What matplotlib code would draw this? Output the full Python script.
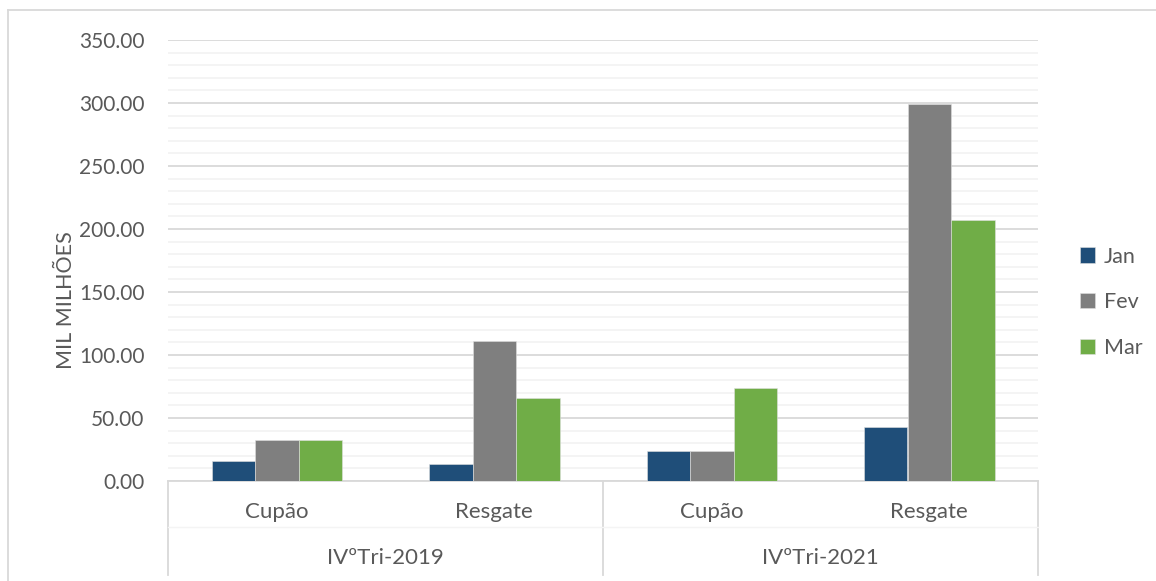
import numpy as np
import matplotlib.pyplot as plt
from matplotlib.lines import Line2D

plt.rcParams['font.family'] = ['Lato', 'DejaVu Sans']

groups = ['IVºTri-2019', 'IVºTri-2021']
categories = ['Cupão', 'Resgate', 'Cupão', 'Resgate']
months = ['Jan', 'Fev', 'Mar']
jan = [16.0, 13.5, 23.8, 43.0]
fev = [32.5, 111.0, 23.8, 299.0]
mar = [32.5, 66.0, 73.8, 207.0]
colors = ['#1F4E79', '#7F7F7F', '#70AD47']

txt = '#595959'
grid_major = '#D9D9D9'
grid_minor = '#F2F2F2'

fig = plt.figure(figsize=(11.56, 5.81), dpi=100)
ax = fig.add_axes([168 / 1156, 1 - 481 / 581, (1038 - 168) / 1156, 441 / 581])

x = np.arange(len(categories))
w = 0.2
for i, (vals, c) in enumerate(zip([jan, fev, mar], colors)):
    ax.bar(x + (i - 1) * w, vals, w, color=c, label=months[i], zorder=3,
           edgecolor='#E0E0E0', linewidth=0.4)

ax.set_xlim(-0.5, 3.5)
ax.set_ylim(0, 350)
ax.set_yticks(np.arange(0, 351, 50))
ax.set_yticks(np.arange(0, 351, 10), minor=True)
ax.yaxis.set_major_formatter(lambda v, p: f'{v:.2f}')
ax.grid(axis='y', which='major', color=grid_major, linewidth=1.3, zorder=0)
ax.grid(axis='y', which='minor', color=grid_minor, linewidth=1.2, zorder=0)
ax.tick_params(axis='y', which='both', length=0, labelsize=15, labelcolor=txt, pad=17)
ax.tick_params(axis='x', which='both', length=0, labelbottom=False)
for s in ['top', 'right', 'left']:
    ax.spines[s].set_visible(False)
ax.spines['bottom'].set_color(grid_major)
ax.spines['bottom'].set_linewidth(1.3)

ax.set_ylabel('MIL MILHÕES', fontsize=15.5, color=txt, labelpad=2)
ax.yaxis.label.set_y(0.41)

# multi-level category axis
trans = ax.get_xaxis_transform()
for c, xi in zip(categories, x):
    ax.text(xi, -0.07, c, transform=trans, ha='center', va='center', fontsize=16, color=txt)
for gi, g in enumerate(groups):
    ax.text(gi * 2 + 0.5, -0.175, g, transform=trans, ha='center', va='center', fontsize=16, color=txt)
for xv in [-0.5, 1.5, 3.5]:
    ax.add_line(Line2D([xv, xv], [0, -0.213], transform=trans, color=grid_major,
                       linewidth=1.3, clip_on=False))
ax.add_line(Line2D([-0.5, 3.5], [-0.104, -0.104], transform=trans, color='#F4F4F4',
                   linewidth=1, clip_on=False))

leg = ax.legend(loc='center left', bbox_to_anchor=(1.026, 0.405), frameon=False,
                fontsize=15.5, labelcolor=txt, handlelength=0.7, handleheight=0.7,
                handletextpad=0.4, labelspacing=1.2)

# chart border
fig.add_artist(Line2D([8 / 1156, 1], [1 - 10 / 581] * 2, transform=fig.transFigure,
                      color='#D9D9D9', linewidth=1.3))
fig.add_artist(Line2D([8 / 1156] * 2, [0, 1 - 10 / 581], transform=fig.transFigure,
                      color='#D9D9D9', linewidth=1.3))

fig.savefig('out.png', dpi=100)
